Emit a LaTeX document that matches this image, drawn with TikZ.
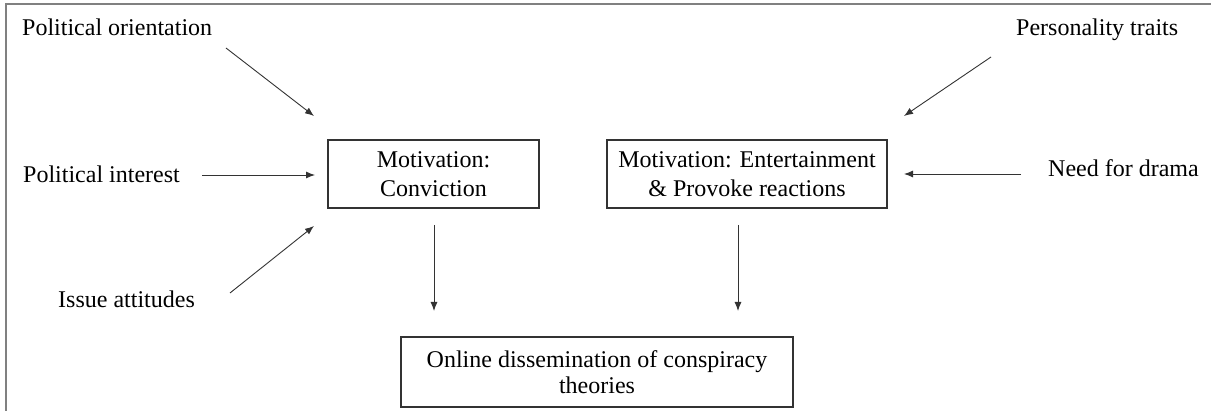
\documentclass[tikz,border=0pt]{standalone}
\usepackage{fontspec}
\setmainfont{Liberation Serif}
\usetikzlibrary{arrows.meta}
\begin{document}
\begin{tikzpicture}[x=1pt,y=-1pt,
  lbl/.style={inner sep=0pt,anchor=base west,font=\fontsize{24}{28}\selectfont},
  box/.style={draw=black!80,line width=1.6pt,inner sep=0pt,align=center,font=\fontsize{24}{29}\selectfont},
  conn/.style={draw=black!80,line width=0.9pt,-{Latex[length=9pt,width=7pt]}}]
\useasboundingbox (0,0) rectangle (1211,411);
\draw[black!50,line width=2pt] (6,420) -- (6,4) -- (1220,4);
% labels
\node[lbl] (po) at (22,36) {Political orientation};
\node[lbl] (pi) at (23,183) {Political interest};
\node[lbl] (ia) at (58,308) {Issue attitudes};
\node[lbl] (pt) at (1016,36) {Personality traits};
\node[lbl] (nd) at (1048,177) {Need for drama};
% boxes
\node[box,minimum width=211pt,minimum height=68pt] (conv) at (433.5,174) {Motivation:\\Conviction};
\node[box,minimum width=280pt,minimum height=68pt] (ent) at (747,174) {Motivation: Entertainment\\\& Provoke reactions};
\node[box,minimum width=392pt,minimum height=70pt,font=\fontsize{24}{26}\selectfont] (odc) at (597,372) {Online dissemination of conspiracy\\theories};
% connector end points
\coordinate (poS) at (226,48);   \coordinate (poE) at (314,116);
\coordinate (piS) at (202,175);  \coordinate (piE) at (315,175);
\coordinate (iaS) at (230,293);  \coordinate (iaE) at (314,226);
\coordinate (ptS) at (991,57);   \coordinate (ptE) at (904,116);
\coordinate (ndS) at (1021,174); \coordinate (ndE) at (904,174);
\coordinate (c1S) at (434,225);  \coordinate (c1E) at (434,311);
\coordinate (c2S) at (738,225);  \coordinate (c2E) at (738,311);
\draw[conn] (poS) -- (poE);
\draw[conn] (piS) -- (piE);
\draw[conn] (iaS) -- (iaE);
\draw[conn] (ptS) -- (ptE);
\draw[conn] (ndS) -- (ndE);
\draw[conn] (c1S) -- (c1E);
\draw[conn] (c2S) -- (c2E);
\end{tikzpicture}
\end{document}
